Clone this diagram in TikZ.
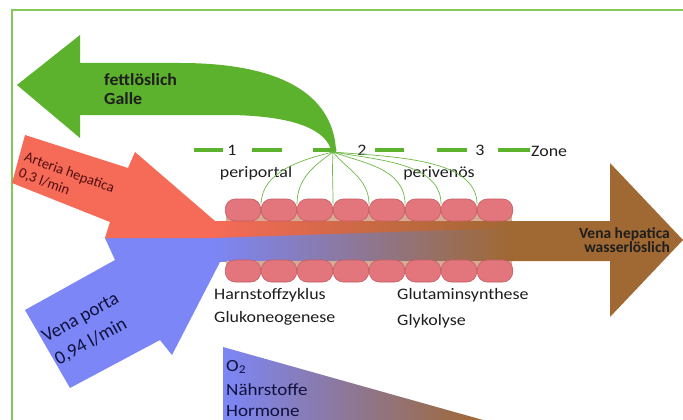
\documentclass[tikz,border=0pt]{standalone}
\usepackage{fontspec}
\setmainfont{Carlito}
\definecolor{gr}{RGB}{92,178,45}
\definecolor{frm}{RGB}{130,200,90}
\definecolor{rd}{RGB}{246,106,88}
\definecolor{bl}{RGB}{124,134,246}
\definecolor{br}{RGB}{160,104,50}
\definecolor{cellc}{RGB}{226,118,124}
\definecolor{cellb}{RGB}{196,92,98}
\definecolor{tan}{RGB}{215,172,148}
\definecolor{ink}{RGB}{30,30,30}
\definecolor{navy}{RGB}{15,18,60}
\definecolor{dred}{RGB}{80,15,15}
\definecolor{vess}{RGB}{110,185,70}
\begin{document}
\begin{tikzpicture}[x=1pt,y=-1pt,
  txt/.style={inner sep=0pt, text=ink, font=\fontsize{16}{19}\selectfont, xscale=1.12},
  bold/.style={inner sep=0pt, text=ink, font=\bfseries\fontsize{17}{19}\selectfont, xscale=1.05},
  rtxt/.style={inner sep=0pt, anchor=west, align=left},
  cell/.style={rectangle, rounded corners=10pt, minimum width=35.5pt, minimum height=22pt, fill=cellc, draw=cellb, line width=0.6pt, inner sep=0pt},
  zone/.style={gr, line width=4pt},
  vessel/.style={vess, line width=0.7pt},
  frame/.style={frm, line width=1.6pt}]
\useasboundingbox (0,0) rectangle (683,420);
\fill[white] (0,0) rectangle (683,420);
% frame
\draw[frame] (12,420) -- (12,10) -- (683,10);

% bottom gradient triangle
\shade[left color=bl, right color=br] (223,347) -- (483,420) -- (223,420) -- cycle;
\node[txt, text=navy, anchor=west, font=\fontsize{17}{19}\selectfont] (o2) at (226,367) {O\textsubscript{2}};
\node[txt, text=navy, anchor=west, font=\fontsize{17}{19}\selectfont] (naehr) at (226,390) {Nährstoffe};
\node[txt, text=navy, anchor=west, font=\fontsize{17}{19}\selectfont] (horm) at (226,411) {Hormone};

% brown outflow arrow
\fill[br] (500,221) -- (610,221) -- (610,163) -- (683,240) -- (610,317) -- (610,261) -- (500,261) -- cycle;

% blue inflow arrow
\fill[bl] (105,238) -- (225,238) -- (225,261) -- (220,262) -- (172,355) -- (160,340) -- (70,388) -- (25,310) -- (115,260) -- cycle;
% red inflow arrow
\fill[rd] (25,135) -- (128,168) -- (135,152) -- (215,221) -- (225,221) -- (225,238) -- (105,238) -- (110,222) -- (12,183) -- cycle;

% sinusoid channel gradients
\shade[left color=bl, right color=br] (213,221) rectangle (512,261);
\shade[left color=rd, right color=br] (213,221) -- (512,221) -- (512,228) -- (213,238) -- cycle;

% tan background between cells
\fill[tan] (226,211) rectangle (512,221);
\fill[tan] (226,261) rectangle (512,270);

% zone dashes
\draw[zone] (194,150) -- (223,150) (252,150) -- (282,150) (313,150) -- (334,150)
            (375,150) -- (404,150) (437,150) -- (467,150) (498,150) -- (530,150);
\node[txt] (z1) at (232,150) {1};
\node[txt] (z2) at (362,150) {2};
\node[txt] (z3) at (480,150) {3};
\node[txt, anchor=west] (zone) at (531,151) {Zone};
\node[txt] (peri) at (256,173) {periportal};
\node[txt] (periv) at (439,173) {perivenös};

% green bile arrow
\fill[gr] (17,85) -- (80,35) -- (80,63) -- (180,63)
  .. controls (290,63) and (333,100) .. (336,150)
  -- (331,150)
  .. controls (326,132) and (300,116) .. (230,115)
  -- (80,115) -- (80,138) -- cycle;
\fill[gr] (333,150) circle (3.5pt);
\node[bold, anchor=west] (fett) at (104,80) {fettlöslich};
\node[bold, anchor=west] (galle) at (104,99) {Galle};

% bile canaliculi
\coordinate (tip) at (333,152);
\foreach \k in {1,...,7} { \coordinate (j\k) at ({225+36*\k},204); }
\draw[vessel] (tip) .. controls (300,160) and (262,172) .. (j1);
\draw[vessel] (tip) .. controls (315,165) and (297,178) .. (j2);
\draw[vessel] (tip) .. controls (332,170) and (333,185) .. (j3);
\draw[vessel] (tip) .. controls (345,168) and (369,178) .. (j4);
\draw[vessel] (tip) .. controls (362,163) and (405,168) .. (j5);
\draw[vessel] (tip) .. controls (378,160) and (441,163) .. (j6);
\draw[vessel] (tip) .. controls (392,157) and (477,158) .. (j7);

% hepatocytes
\foreach \k in {1,...,8} {
  \node[cell] (t\k) at ({207+36*\k},210) {};
  \node[cell] (b\k) at ({207+36*\k},271) {};
}

% labels
\node[txt, anchor=west] (harn) at (214,295) {Harnstoffzyklus};
\node[txt, anchor=west] (gluk) at (214,318) {Glukoneogenese};
\node[txt, anchor=west] (glut) at (397,295) {Glutaminsynthese};
\node[txt, anchor=west] (glyk) at (397,321) {Glykolyse};

\node[inner sep=0pt, text=ink, font=\bfseries\fontsize{15.5}{14}\selectfont, align=right, anchor=east] (vh) at (670,240) {Vena hepatica\\wasserlöslich};

\node[rtxt, rotate=-20, text=dred, font=\fontsize{14.5}{17}\selectfont] (art) at (22,165) {Arteria hepatica\\0,3 l/min};
\node[rtxt, rotate=29, text=navy, font=\fontsize{19}{26}\selectfont] (vp) at (50,350) {Vena porta\\0,94 l/min};
\end{tikzpicture}
\end{document}
